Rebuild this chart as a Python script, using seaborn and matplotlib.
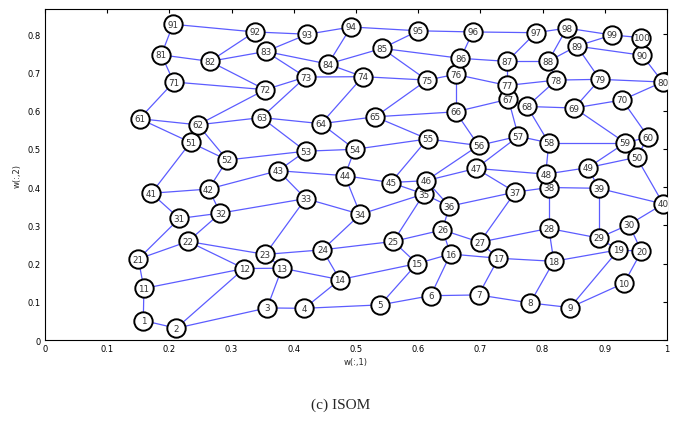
import matplotlib
matplotlib.use("Agg")
import matplotlib.pyplot as plt
import seaborn as sns
import numpy as np
import pandas as pd

# Node weights (w(:,1), w(:,2)) for the 10x10 ISOM grid, nodes 1..100
node_x = [0.158, 0.211, 0.357, 0.417, 0.539, 0.620, 0.697, 0.780, 0.844, 0.931,
          0.159, 0.320, 0.381, 0.474, 0.598, 0.652, 0.729, 0.818, 0.922, 0.959,
          0.150, 0.230, 0.354, 0.446, 0.560, 0.639, 0.699, 0.810, 0.890, 0.939,
          0.216, 0.282, 0.419, 0.507, 0.609, 0.650, 0.756, 0.810, 0.890, 0.994,
          0.171, 0.263, 0.375, 0.482, 0.556, 0.613, 0.693, 0.805, 0.873, 0.951,
          0.234, 0.293, 0.419, 0.498, 0.615, 0.697, 0.761, 0.810, 0.933, 0.970,
          0.152, 0.246, 0.348, 0.444, 0.531, 0.660, 0.745, 0.775, 0.851, 0.928,
          0.207, 0.354, 0.419, 0.511, 0.614, 0.660, 0.743, 0.822, 0.892, 0.993,
          0.187, 0.265, 0.355, 0.455, 0.542, 0.668, 0.743, 0.809, 0.855, 0.960,
          0.206, 0.337, 0.422, 0.492, 0.600, 0.688, 0.789, 0.839, 0.912, 0.959]
node_y = [0.051, 0.031, 0.084, 0.083, 0.092, 0.116, 0.118, 0.097, 0.085, 0.149,
          0.135, 0.187, 0.188, 0.158, 0.200, 0.225, 0.214, 0.206, 0.236, 0.232,
          0.212, 0.258, 0.224, 0.236, 0.258, 0.288, 0.256, 0.292, 0.267, 0.302,
          0.318, 0.332, 0.370, 0.329, 0.382, 0.350, 0.387, 0.399, 0.397, 0.356,
          0.384, 0.395, 0.443, 0.430, 0.412, 0.417, 0.449, 0.434, 0.451, 0.478,
          0.517, 0.471, 0.494, 0.499, 0.526, 0.509, 0.533, 0.516, 0.516, 0.531,
          0.579, 0.563, 0.582, 0.566, 0.584, 0.597, 0.630, 0.611, 0.607, 0.628,
          0.675, 0.655, 0.688, 0.689, 0.680, 0.695, 0.666, 0.680, 0.682, 0.675,
          0.746, 0.729, 0.755, 0.722, 0.763, 0.737, 0.729, 0.729, 0.769, 0.745,
          0.826, 0.806, 0.800, 0.819, 0.809, 0.806, 0.804, 0.816, 0.798, 0.791]
node_labels = [str(i) for i in range(1, 101)]

x_ticks = [0, 0.1, 0.2, 0.3, 0.4, 0.5, 0.6, 0.7, 0.8, 0.9, 1]
y_ticks = [0, 0.1, 0.2, 0.3, 0.4, 0.5, 0.6, 0.7, 0.8]

nodes = pd.DataFrame({"x": node_x, "y": node_y, "label": node_labels})

# grid topology: each node joins its right neighbour and the node above
rows = []
eid = 0
for i in range(100):
    r, c = divmod(i, 10)
    nbrs = []
    if c < 9:
        nbrs.append(i + 1)
    if r < 9:
        nbrs.append(i + 10)
    for j in nbrs:
        rows.append({"edge": eid, "order": 0, "x": node_x[i], "y": node_y[i]})
        rows.append({"edge": eid, "order": 1, "x": node_x[j], "y": node_y[j]})
        eid += 1
edges = pd.DataFrame(rows)

sns.set_style("white")
fig = plt.figure(figsize=(6.82, 4.35), dpi=100)
ax = fig.add_axes([0.066, 0.216, 0.912, 0.761])

sns.lineplot(data=edges, x="x", y="y", units="edge", estimator=None, sort=False,
             color="#5c5cff", linewidth=0.9, ax=ax, legend=False)
sns.scatterplot(data=nodes, x="x", y="y", s=175, color="white", edgecolor="black",
                linewidth=1.4, ax=ax, legend=False, zorder=3)
for _, row in nodes.iterrows():
    ax.text(row["x"], row["y"], row["label"], ha="center", va="center",
            fontsize=6.3, color="#333333", zorder=4)

ax.set_xlim(0, 1)
ax.set_ylim(0, 0.866)
ax.set_xticks(x_ticks)
ax.set_xticklabels([f"{t:g}" for t in x_ticks])
ax.set_yticks(y_ticks)
ax.set_yticklabels([f"{t:g}" for t in y_ticks])
ax.tick_params(direction="in", length=3, labelsize=6, colors="black", pad=3,
               top=True, right=True)
for s in ax.spines.values():
    s.set_color("black")
    s.set_linewidth(0.8)
ax.set_xlabel("w(:,1)", fontsize=6, labelpad=3)
ax.set_ylabel("w(:,2)", fontsize=6, labelpad=4)

fig.text(0.5, 0.068, "(c) ISOM", ha="center", va="center",
         fontsize=11, family="Liberation Serif")

fig.savefig("out.png", dpi=100)
